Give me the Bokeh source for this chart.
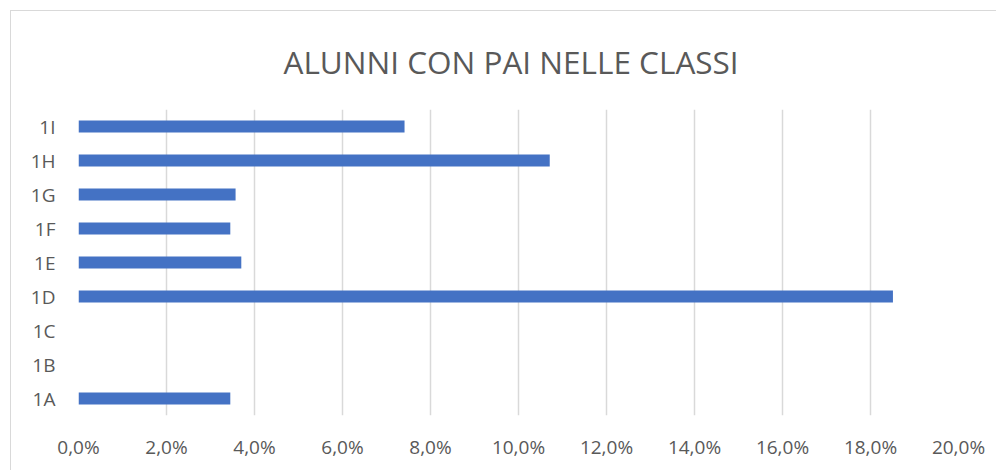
from bokeh.plotting import figure
from bokeh.models import FixedTicker, CustomJSTickFormatter, Range1d
from bokeh.embed import file_html
from bokeh.resources import INLINE

classes = ["1A", "1B", "1C", "1D", "1E", "1F", "1G", "1H", "1I"]
values = [0.0345, 0.0, 0.0, 0.1851, 0.0370, 0.0345, 0.0357, 0.1071, 0.0741]
ticks = [0.0, 0.02, 0.04, 0.06, 0.08, 0.10, 0.12, 0.14, 0.16, 0.18, 0.20]

TEXT = "#595959"
FONT = "Open Sans"

p = figure(width=986, height=460, y_range=classes, x_range=Range1d(0, 0.20),
           output_backend="svg", toolbar_location=None,
           title="ALUNNI CON PAI NELLE CLASSI",
           min_border_left=67, min_border_right=39, min_border_top=98, min_border_bottom=56)
p.styles = {"border-top": "1px solid #d9d9d9", "border-left": "1px solid #d9d9d9",
            "margin-left": "10px", "margin-top": "10px"}

p.title.text_font = FONT
p.title.text_font_size = "31.5px"
p.title.text_font_style = "normal"
p.title.text_color = TEXT
p.title.align = "left"
p.title.offset = 205
p.title.standoff = 53

p.hbar(y=classes, right=values, left=0, height=0.36,
       fill_color="#4472C4", line_color=None)

p.outline_line_color = None
p.ygrid.grid_line_color = None
p.xgrid.grid_line_color = "#d9d9d9"
p.xgrid.grid_line_width = 1.5

p.xaxis.ticker = FixedTicker(ticks=ticks)
p.xaxis.formatter = CustomJSTickFormatter(code="return (tick*100).toFixed(1).replace('.', ',') + '%';")
for ax in (p.xaxis, p.yaxis):
    ax.axis_line_color = None
    ax.major_tick_line_color = None
    ax.minor_tick_line_color = None
    ax.major_label_text_font = FONT
    ax.major_label_text_font_size = "19px"
    ax.major_label_text_color = TEXT
p.xaxis.major_label_standoff = 12
p.yaxis.major_label_standoff = 17

open("out.html", "w").write(file_html(p, INLINE))
